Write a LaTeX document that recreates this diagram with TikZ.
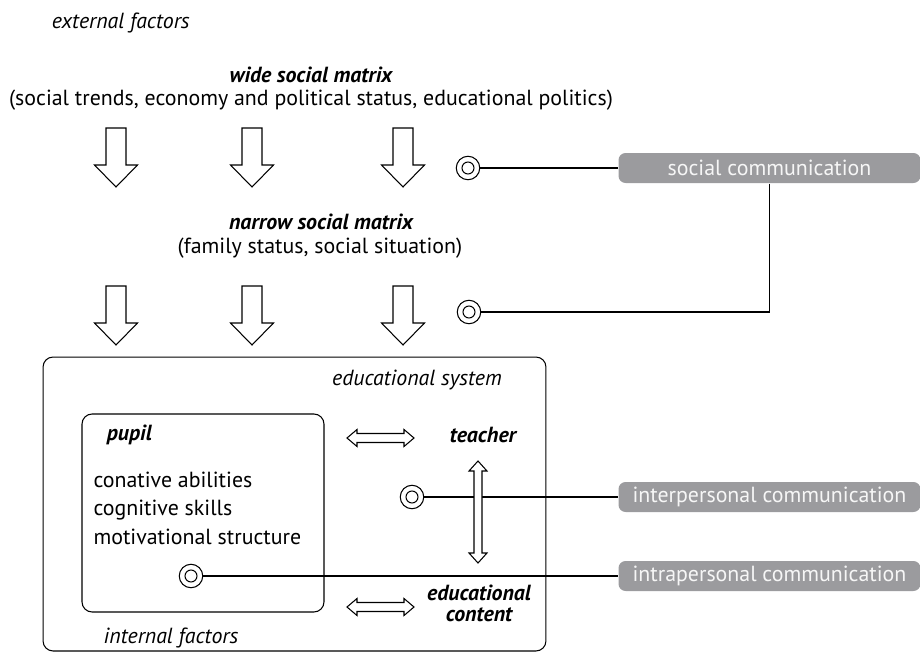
\documentclass[tikz,border=0pt]{standalone}
\usepackage{fontspec}
\setmainfont{PT Sans}[Scale=1.245]
\usepackage{xcolor}
\usepackage{tikz}
\usetikzlibrary{positioning,calc}

\definecolor{boxgray}{RGB}{155,155,158}
\definecolor{boxtext}{RGB}{246,246,246}

\begin{document}
\begin{tikzpicture}[x=0.02cm,y=-0.02cm,line width=0.6pt,
  label/.style={font=\itshape},
  head/.style={font=\bfseries\itshape},
  target/.style={circle,draw,fill=white,minimum size=0.47cm,inner sep=0pt,
    path picture={\draw (path picture bounding box.center) circle (0.12cm);}},
  channel/.style={fill=boxgray,text=boxtext,rounded corners=4pt,anchor=west,
    minimum width=6.04cm,minimum height=0.6cm,inner sep=0pt},
  frame/.style={draw,rounded corners=0.2cm,inner sep=0pt},
  hollow/.style={draw,fill=white,line join=miter}]
\useasboundingbox (0,0) rectangle (920,656);

\node[label,anchor=west] (external) at (44,23) {external factors};
\node[head] (wide) at (311,75) {wide social matrix};
\node (widetxt) at (311,100) {(social trends, economy and political status, educational politics)};
\node[head] (narrow) at (321,222) {narrow social matrix};
\node (narrowtxt) at (320,248) {(family status, social situation)};

\foreach \y in {128,286}
  \foreach \x in {116,252,403}
    \draw[hollow] (\x-10,\y) -- ++(20,0) -- ++(0,37) -- ++(11.5,0) -- (\x,\y+59) -- ++(-21.5,-22) -- ++(11.5,0) -- cycle;

\node[channel] (social) at (618,168) {social communication};
\node[channel] (interpersonal) at (618,497) {interpersonal communication};
\node[channel] (intrapersonal) at (618,576) {intrapersonal communication};

\node[target] (wideDot) at (468,168) {};
\node[target] (narrowDot) at (469,312) {};

\node[frame,minimum width=10.06cm,minimum height=5.88cm] (edusys) at (294.5,504) {};
\node[frame,minimum width=4.84cm,minimum height=3.96cm] (pupilbox) at (203,513) {};

\node[label] (systemlbl) at (417,380) {educational system};
\node[head,anchor=west] (pupil) at (99,435) {pupil};
\node[anchor=north west,align=left,inner sep=0pt] (traits) at (93,471) {conative abilities\\[4.3pt]cognitive skills\\[4.3pt]motivational structure};
\node[label] (internal) at (171,638) {internal factors};
\node[head] (teacher) at (483,435) {teacher};
\node[head,align=center] (content) at (479,603) {educational\\content};

\node[target] (teacherDot) at (412,497) {};
\node[target] (pupilDot) at (191,576) {};

\draw (wideDot) -- (social);
\draw (social.south) |- (narrowDot);
\draw (teacherDot) -- (interpersonal);
\draw (pupilDot) -- (intrapersonal);

\foreach \y in {438,607}
  \draw[hollow] (347,\y) -- ++(10,-8.5) -- ++(0,4) -- ++(47,0) -- ++(0,-4) -- ++(10,8.5) -- ++(-10,8.5) -- ++(0,-4) -- ++(-47,0) -- ++(0,4) -- cycle;
\draw[hollow] (478,461) -- ++(9,10) -- ++(-5,0) -- ++(0,82) -- ++(5,0) -- ++(-9,10) -- ++(-9,-10) -- ++(5,0) -- ++(0,-82) -- ++(-5,0) -- cycle;
\end{tikzpicture}
\end{document}
